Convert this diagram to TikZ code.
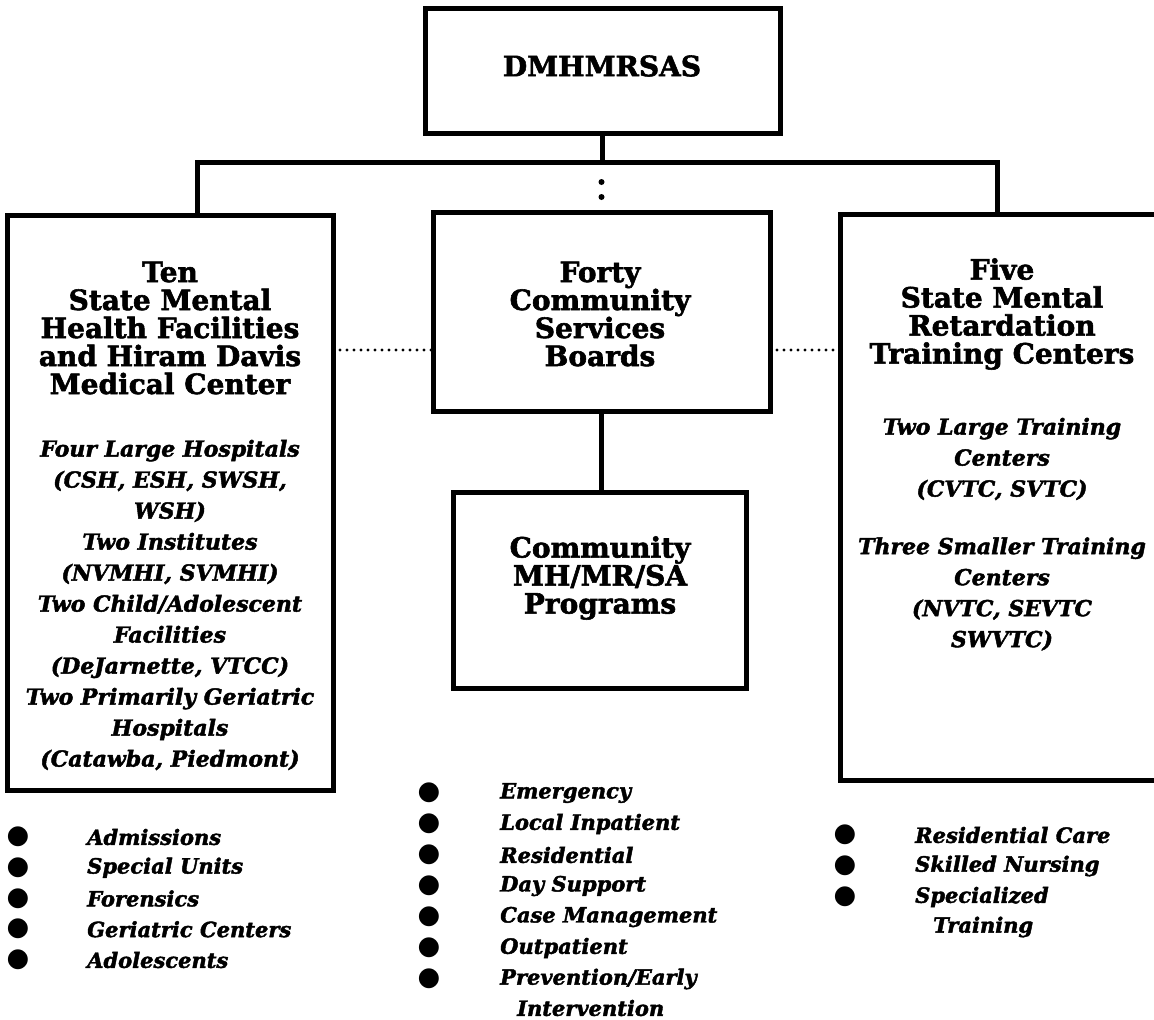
\documentclass[tikz,border=0pt]{standalone}
\usepackage{fontspec}
\setmainfont{DejaVu Serif}[BoldFeatures={FakeBold=2}, BoldItalicFeatures={FakeBold=2}]
\newfontfamily\bulfont{DejaVu Sans}
\begin{document}
\begin{tikzpicture}[x=1pt,y=-1pt,
  orgbox/.style={draw, line width=5pt, rectangle, inner sep=0pt, outer sep=0pt},
  conn/.style={line width=5pt},
  dotconn/.style={line width=3.2pt, line cap=round, dash pattern=on 0pt off 7pt},
  bigdots/.style={line width=6pt, line cap=round, dash pattern=on 0pt off 15pt},
  headtxt/.style={align=center, font=\fontsize{28}{28}\selectfont\bfseries, inner sep=0pt},
  italtxt/.style={align=center, font=\fontsize{22}{31}\selectfont\bfseries\itshape, inner sep=0pt},
  listtxt/.style={anchor=west, font=\fontsize{21}{24}\selectfont\bfseries\itshape, inner sep=0pt},
  bul/.style={font=\fontsize{26}{26}\selectfont\bulfont, inner sep=0pt}
]
\useasboundingbox (0,0) rectangle (1154,1020);
\clip (0,0) rectangle (1154,1020);

% boxes
\node[orgbox, minimum width=355pt, minimum height=125pt] (dmh) at (602.5,70.5) {};
\node[orgbox, minimum width=326pt, minimum height=575pt] (left) at (170,502.5) {};
\node[orgbox, minimum width=337pt, minimum height=199pt] (csb) at (601.5,311.5) {};
\node[orgbox, minimum width=293pt, minimum height=196pt] (prog) at (599.5,590) {};
\node[orgbox, minimum width=324pt, minimum height=566pt] (right) at (1002,497) {};

% texts in boxes
\node[font=\fontsize{28}{30}\selectfont\bfseries, inner sep=0pt] (dmht) at (602,66) {DMHMRSAS};
\node[headtxt] (lefth) at (170,328) {Ten\\State Mental\\Health Facilities\\and Hiram Davis\\Medical Center};
\node[italtxt] (lefti) at (170,605) {Four Large Hospitals\\(CSH, ESH, SWSH,\\WSH)\\Two Institutes\\(NVMHI, SVMHI)\\Two Child/Adolescent\\Facilities\\(DeJarnette, VTCC)\\Two Primarily Geriatric\\Hospitals\\(Catawba, Piedmont)};
\node[headtxt] (csbt) at (600,314) {Forty\\Community\\Services\\Boards};
\node[headtxt] (progt) at (600,578) {Community\\MH/MR/SA\\Programs};
\node[headtxt] (righth) at (1002,314) {Five\\State Mental\\Retardation\\Training Centers};
\node[italtxt] (righti1) at (1002,459) {Two Large Training\\Centers\\(CVTC, SVTC)};
\node[italtxt] (righti2) at (1002,594) {Three Smaller Training\\Centers\\(NVTC, SEVTC\\SWVTC)};

% connectors
\coordinate (busL) at (197,162);
\coordinate (busR) at (997,162);
\draw[conn] (dmh.south) -- (dmh.south |- busL);
\draw[conn, line join=miter] (left.north -| busL) -- (busL) -- (busR) -- (right.north -| busR);
\draw[bigdots, shorten <=20pt, shorten >=14pt] (csb.north |- busL) -- (csb.north);
\coordinate (midY) at (0,350);
\draw[dotconn] (left.east |- midY) -- (csb.west |- midY);
\draw[dotconn] (csb.east |- midY) -- (right.west |- midY);
\draw[conn] (csb.south) -- (csb.south |- prog.north);

% left list
\foreach \t [count=\i from 0] in {Admissions, Special Units, Forensics, Geriatric Centers, Adolescents} {
  \node[bul] (lb\i) at (18, 837+30.75*\i) {●};
  \node[listtxt] (lt\i) at (87, 837+30.75*\i) {\t};
}
% centre list
\foreach \t [count=\i from 0] in {Emergency, Local Inpatient, Residential, Day Support, Case Management, Outpatient, Prevention/Early} {
  \node[bul] (cb\i) at (429, 793+31*\i) {●};
  \node[listtxt] (ct\i) at (500, 793+31*\i) {\t};
}
\node[listtxt] (ct7) at (517, 1008) {Intervention};
% right list
\foreach \t [count=\i from 0] in {Residential Care, Skilled Nursing, Specialized} {
  \node[bul] (rb\i) at (845, 835+31*\i) {●};
  \node[listtxt] (rt\i) at (915, 835+31*\i) {\t};
}
\node[listtxt] (rt3) at (933, 927) {Training};
\end{tikzpicture}
\end{document}
